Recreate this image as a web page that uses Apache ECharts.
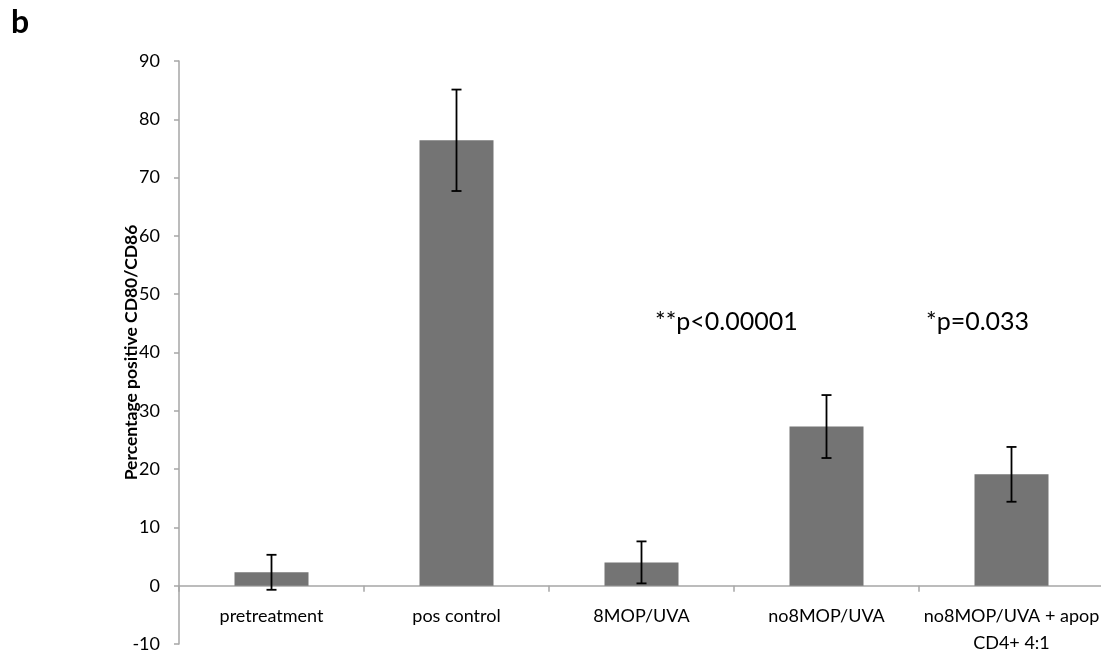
<!DOCTYPE html>
<html>
<head>
<meta charset="utf-8">
<script src="https://cdn.jsdelivr.net/npm/echarts@6/dist/echarts.min.js"></script>
<style>html,body{margin:0;padding:0;background:#fff;}#c{width:1101px;height:652px;}</style>
</head>
<body>
<div id="c"></div>
<script>
var categories = ['pretreatment', 'pos control', '8MOP/UVA', 'no8MOP/UVA', 'no8MOP/UVA + apop\nCD4+ 4:1'];
var means = [2.3, 76.4, 4.0, 27.3, 19.1];
var errors = [3.0, 8.7, 3.6, 5.4, 4.7];
var yTicks = [-10, 0, 10, 20, 30, 40, 50, 60, 70, 80, 90];
var yTitle = 'Percentage positive CD80/CD86';
var panelLetter = 'b';
var annotations = ['**p<0.00001', '*p=0.033'];

var FONT = 'Lato';
var errData = means.map(function (m, i) { return [i, m - errors[i], m + errors[i]]; });

var chart = echarts.init(document.getElementById('c'), null, { renderer: 'canvas' });
chart.setOption({
  animation: false,
  backgroundColor: '#ffffff',
  grid: { left: 179, top: 61, width: 925, bottom: 8, containLabel: false, outerBoundsMode: 'none' },
  xAxis: {
    type: 'category',
    data: categories,
    axisLine: { onZero: true, lineStyle: { color: '#a6a6a6', width: 1.5 } },
    axisTick: { show: true, length: 6, lineStyle: { color: '#a6a6a6', width: 1.5 } },
    axisLabel: { color: '#000', fontFamily: FONT, fontSize: 18, margin: -41, lineHeight: 27, interval: 0 },
    splitLine: { show: false }
  },
  yAxis: {
    type: 'value',
    min: yTicks[0],
    max: yTicks[yTicks.length - 1],
    interval: 10,
    name: yTitle,
    nameLocation: 'middle',
    nameRotate: 90,
    nameGap: 39,
    nameMoveOverlap: false,
    nameTextStyle: { color: '#000', fontFamily: FONT, fontWeight: 'bold', fontSize: 17.5 },
    axisLine: { show: true, lineStyle: { color: '#a6a6a6', width: 1.5 } },
    axisTick: { show: true, length: 5, lineStyle: { color: '#a6a6a6', width: 1.5 } },
    axisLabel: { color: '#000', fontFamily: FONT, fontSize: 18, margin: 19 },
    splitLine: { show: false }
  },
  series: [
    {
      type: 'bar',
      data: means,
      barWidth: '40%',
      itemStyle: { color: '#747474' },
      z: 2
    },
    {
      type: 'custom',
      data: errData,
      z: 3,
      renderItem: function (params, api) {
        var x = api.value(0);
        var lo = api.coord([x, api.value(1)]);
        var hi = api.coord([x, api.value(2)]);
        var hw = 5;
        var st = { stroke: '#000', lineWidth: 1.8 };
        return {
          type: 'group',
          children: [
            { type: 'line', shape: { x1: lo[0], y1: lo[1], x2: hi[0], y2: hi[1] }, style: st },
            { type: 'line', shape: { x1: hi[0] - hw, y1: hi[1], x2: hi[0] + hw, y2: hi[1] }, style: st },
            { type: 'line', shape: { x1: lo[0] - hw, y1: lo[1], x2: lo[0] + hw, y2: lo[1] }, style: st }
          ]
        };
      }
    }
  ],
  graphic: [
    { type: 'text', x: 11, y: 23, style: { text: panelLetter, fill: '#000', font: 'bold 32px Lato', verticalAlign: 'middle' } },
    { type: 'text', x: 655, y: 322, style: { text: annotations[0], fill: '#000', font: '25px Lato', verticalAlign: 'middle' } },
    { type: 'text', x: 926, y: 322, style: { text: annotations[1], fill: '#000', font: '25px Lato', verticalAlign: 'middle' } }
  ]
});
</script>
</body>
</html>
